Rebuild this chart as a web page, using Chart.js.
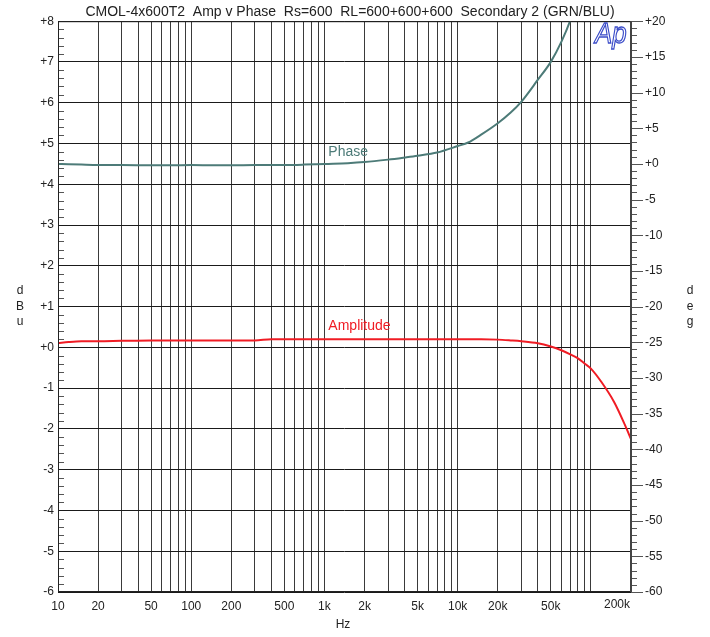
<!DOCTYPE html>
<html>
<head>
<meta charset="utf-8">
<script src="https://cdn.jsdelivr.net/npm/chart.js@4"></script>
<style>
  body { margin: 0; background: #fff; }
  canvas { display: block; }
</style>
</head>
<body>
<canvas id="chart" width="710" height="637"></canvas>
<script>
// 측정 데이터 (Hz, dBu, deg)
const freqs = [10, 12, 15, 20, 30, 50, 70, 100, 150, 200, 300, 400, 500, 700,
  1000, 1500, 2000, 3000, 4000, 5000, 7000, 10000, 12000, 15000, 20000, 25000,
  30000, 40000, 50000, 60000, 70000, 80000, 90000, 100000, 120000, 150000, 180000, 200000];
const amplitude = [0.10, 0.13, 0.15, 0.15, 0.16, 0.17, 0.17, 0.17, 0.17, 0.17, 0.17, 0.20, 0.20, 0.20,
  0.20, 0.20, 0.20, 0.20, 0.20, 0.20, 0.20, 0.20, 0.20, 0.20, 0.19, 0.17,
  0.15, 0.10, 0.02, -0.07, -0.17, -0.27, -0.40, -0.52, -0.85, -1.35, -1.90, -2.25];
const phase = [0.0, -0.05, -0.1, -0.15, -0.15, -0.2, -0.2, -0.15, -0.2, -0.2, -0.15, -0.15, -0.15, -0.1,
  0.0, 0.1, 0.25, 0.6, 0.9, 1.15, 1.6, 2.5, 3.0, 4.1, 5.7, 7.2,
  8.7, 11.8, 14.3, 17.1, 20.1, 23.5];

const xLabels = [10, 20, 50, 100, 200, 500, 1000, 2000, 5000, 10000, 20000, 50000];
const lastLabel = '200k';
const titleText = 'CMOL-4x600T2  Amp v Phase  Rs=600  RL=600+600+600  Secondary 2 (GRN/BLU)';

const FONT = 'Liberation Sans, Arial, sans-serif';
const RED = '#f01c24';
const TEAL = '#4d7b78';

function fmtHz(v) {
  return v >= 1000 ? (v / 1000) + 'k' : String(v);
}
function signed(v) {
  return (v >= 0 ? '+' : '') + v;
}

// 1,2,...,9 x 10^n 격자 (200k 까지)
const gridFreqs = [];
for (let d = 10; d <= 100000; d *= 10) {
  for (let m = 1; m <= 9; m++) {
    if (m * d <= 200000) gridFreqs.push(m * d);
  }
}

// 제목, 축 이름, 보조 눈금, 로고
const decor = {
  id: 'decor',
  afterDraw(chart) {
    const ctx = chart.ctx;
    const a = chart.chartArea;
    const yL = chart.scales.y;
    const yR = chart.scales.y2;
    const x = chart.scales.x;
    ctx.save();

    ctx.fillStyle = '#222';
    ctx.font = '14px ' + FONT;
    ctx.textAlign = 'center';
    ctx.textBaseline = 'alphabetic';
    ctx.fillText(titleText, 350, 16);

    ctx.font = '12px ' + FONT;
    ctx.textBaseline = 'middle';
    ['d', 'B', 'u'].forEach((c, i) => ctx.fillText(c, 20, 291 + i * 15.5));
    ['d', 'e', 'g'].forEach((c, i) => ctx.fillText(c, 690, 291 + i * 15.5));
    ctx.fillText('Hz', 343, 625);

    // 마지막 주파수 라벨은 오른쪽 끝에 맞춤
    ctx.textAlign = 'right';
    ctx.fillText(lastLabel, a.right - 1, a.bottom + 13);

    // 왼쪽 보조 눈금 (0.2 dB)
    ctx.strokeStyle = '#555';
    ctx.lineWidth = 1;
    for (let i = -30; i <= 40; i++) {
      if (i % 5 === 0) continue;
      const py = Math.round(yL.getPixelForValue(i / 5)) + 0.5;
      ctx.beginPath();
      ctx.moveTo(a.left, py);
      ctx.lineTo(a.left + 6, py);
      ctx.stroke();
    }
    // 오른쪽 눈금 (1 deg / 5 deg)
    for (let v = -60; v <= 20; v++) {
      const py = Math.round(yR.getPixelForValue(v)) + 0.5;
      ctx.beginPath();
      ctx.moveTo(a.right, py);
      ctx.lineTo(a.right + (v % 5 === 0 ? 12 : 6), py);
      ctx.stroke();
    }

    // 테두리
    ctx.strokeStyle = '#222';
    ctx.lineWidth = 1;
    ctx.strokeRect(a.left + 0.5, a.top + 0.5, a.right - a.left - 1, a.bottom - a.top - 1);
    ctx.strokeStyle = '#444';
    ctx.lineWidth = 2;
    ctx.beginPath();
    ctx.moveTo(a.right, a.top);
    ctx.lineTo(a.right, a.bottom);
    ctx.stroke();

    // 곡선 이름
    ctx.font = '14px ' + FONT;
    ctx.textAlign = 'left';
    ctx.textBaseline = 'middle';
    ctx.fillStyle = TEAL;
    ctx.fillText('Phase', x.getPixelForValue(1070), yL.getPixelForValue(4.78));
    ctx.fillStyle = RED;
    ctx.fillText('Amplitude', x.getPixelForValue(1070), yL.getPixelForValue(0.52));

    // 로고
    ctx.translate(595, 43);
    ctx.scale(0.86, 1);
    ctx.font = 'italic 30px ' + FONT;
    ctx.strokeStyle = '#3a4bc8';
    ctx.lineWidth = 1.3;
    ctx.textAlign = 'left';
    ctx.textBaseline = 'alphabetic';
    ctx.strokeText('Ap', 0, 0);

    ctx.restore();
  }
};

const ctx = document.getElementById('chart').getContext('2d');
new Chart(ctx, {
  type: 'line',
  data: {
    datasets: [
      {
        label: 'Amplitude',
        data: freqs.map((f, i) => ({ x: f, y: amplitude[i] })),
        borderColor: RED,
        borderWidth: 2,
        pointRadius: 0,
        cubicInterpolationMode: 'monotone',
        yAxisID: 'y'
      },
      {
        label: 'Phase',
        data: phase.map((p, i) => ({ x: freqs[i], y: p })),
        borderColor: TEAL,
        borderWidth: 2,
        pointRadius: 0,
        cubicInterpolationMode: 'monotone',
        yAxisID: 'y2'
      }
    ]
  },
  options: {
    responsive: false,
    animation: false,
    layout: { padding: { top: 19, left: 0, right: 0, bottom: 0 } },
    plugins: {
      legend: { display: false },
      tooltip: { enabled: false }
    },
    scales: {
      x: {
        type: 'logarithmic',
        min: 10,
        max: 200000,
        afterBuildTicks(scale) {
          scale.ticks = gridFreqs.map(v => ({ value: v }));
        },
        afterFit(scale) { scale.height = 45; },
        grid: { color: '#3a3a3a', lineWidth: 1, drawTicks: false },
        border: { display: false },
        ticks: {
          autoSkip: false,
          maxRotation: 0,
          padding: 7,
          color: '#222',
          font: { family: FONT, size: 12 },
          callback(v) {
            return xLabels.includes(v) ? fmtHz(v) : '';
          }
        }
      },
      y: {
        position: 'left',
        min: -6,
        max: 8,
        afterFit(scale) { scale.width = 58; },
        grid: { color: '#1a1a1a', lineWidth: 1, drawTicks: false },
        border: { display: false },
        ticks: {
          stepSize: 1,
          padding: 4,
          color: '#222',
          font: { family: FONT, size: 12 },
          callback: v => signed(v)
        }
      },
      y2: {
        position: 'right',
        min: -60,
        max: 20,
        afterFit(scale) { scale.width = 79; },
        grid: { display: false, drawTicks: false },
        border: { display: false },
        ticks: {
          stepSize: 5,
          padding: 14,
          color: '#222',
          font: { family: FONT, size: 12 },
          callback: v => signed(v)
        }
      }
    }
  },
  plugins: [decor]
});
</script>
</body>
</html>
